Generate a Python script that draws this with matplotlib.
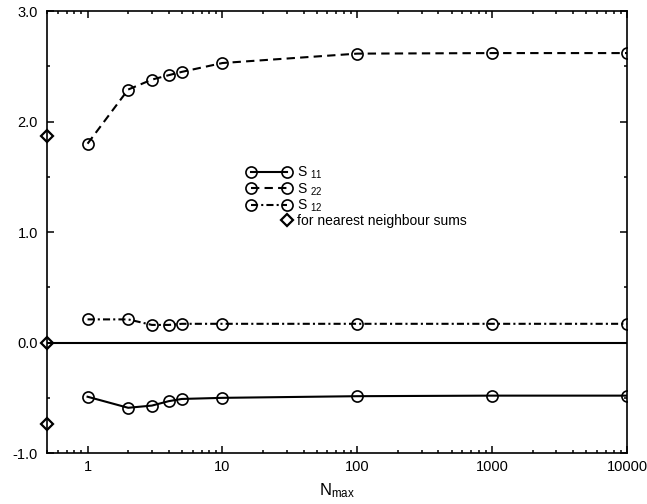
import numpy as np
import matplotlib.pyplot as plt
import matplotlib.ticker as ticker
from matplotlib.legend_handler import HandlerLine2D

plt.rcParams['font.family'] = ['Liberation Sans', 'DejaVu Sans']
plt.rcParams['mathtext.fontset'] = 'custom'
plt.rcParams['mathtext.rm'] = 'Liberation Sans'
plt.rcParams['mathtext.it'] = 'Liberation Sans:italic'
plt.rcParams['mathtext.default'] = 'regular'

# Data.
n_max = [1, 2, 3, 4, 5, 10, 100, 1000, 10000]
s11 = [-0.49, -0.59, -0.57, -0.53, -0.51, -0.50, -0.485, -0.48, -0.48]
s22 = [1.80, 2.29, 2.38, 2.42, 2.45, 2.53, 2.615, 2.62, 2.62]
s12 = [0.21, 0.21, 0.16, 0.16, 0.17, 0.17, 0.17, 0.17, 0.17]

# Nearest neighbour sums (drawn on the left axis).
nn_x = [0.5, 0.5, 0.5]
nn_vals = [1.87, 0.0, -0.74]


class HandlerRightMarker(HandlerLine2D):
    # single marker at the right end of the handle
    def get_xdata(self, legend, xdescent, ydescent, width, height, fontsize):
        pad = self._marker_pad * fontsize
        x = np.array([width - xdescent - pad])
        return x, x


fig = plt.figure(figsize=(6.47, 5.04), dpi=100)
ax = fig.add_axes([0.0726, 0.101, 0.8965, 0.877])

circ = dict(marker='o', markersize=8, markerfacecolor='none',
            markeredgecolor='k', markeredgewidth=1.2, color='k', lw=1.5)

ax.axhline(0, color='k', lw=1.5, zorder=1)

l11, = ax.plot(n_max, s11, linestyle='-', label='S $_{11}$', **circ)
l22, = ax.plot(n_max, s22, linestyle=(0, (4.0, 2.5)), label='S $_{22}$', **circ)
l12, = ax.plot(n_max, s12, linestyle=(0, (3.4, 1.5, 1.0, 1.5)), label='S $_{12}$', **circ)
lnn, = ax.plot(nn_x, nn_vals, linestyle='none', marker='D', markersize=6.5,
               markerfacecolor='none', markeredgecolor='k', markeredgewidth=1.6,
               clip_on=False, zorder=5, label='for nearest neighbour sums')

ax.set_xscale('log')
ax.set_xlim(0.5, 10000)
ax.set_ylim(-1.0, 3.0)

ax.xaxis.set_major_locator(ticker.FixedLocator([1, 10, 100, 1000, 10000]))
ax.xaxis.set_minor_locator(ticker.LogLocator(base=10, subs=np.arange(2, 10)))
ax.xaxis.set_major_formatter(ticker.FuncFormatter(lambda v, p: f"{v:g}"))
ax.xaxis.set_minor_formatter(ticker.NullFormatter())
ax.yaxis.set_major_locator(ticker.MultipleLocator(1.0))
ax.yaxis.set_minor_locator(ticker.MultipleLocator(0.5))
ax.yaxis.set_major_formatter(ticker.FormatStrFormatter('%.1f'))

ax.tick_params(which='both', direction='in', top=True, right=True,
               labelsize=10.5, width=1.1)
ax.tick_params(which='major', length=5)
ax.tick_params(axis='x', which='major', pad=5)
ax.tick_params(axis='y', which='major', pad=6.5)
ax.tick_params(which='minor', length=2.5)
for sp in ax.spines.values():
    sp.set_linewidth(1.2)

ax.set_xlabel(r'N$_{\rm max}$', fontsize=12, labelpad=5)

ax.legend(handles=[l11, l22, l12, lnn], loc='upper left',
          bbox_to_anchor=(0.345, 0.652), frameon=False, numpoints=2,
          handlelength=3.2, handletextpad=0.42, labelspacing=0.0,
          borderpad=0, borderaxespad=0, fontsize=10,
          handler_map={lnn: HandlerRightMarker()})

plt.savefig('out.png', dpi=100)
